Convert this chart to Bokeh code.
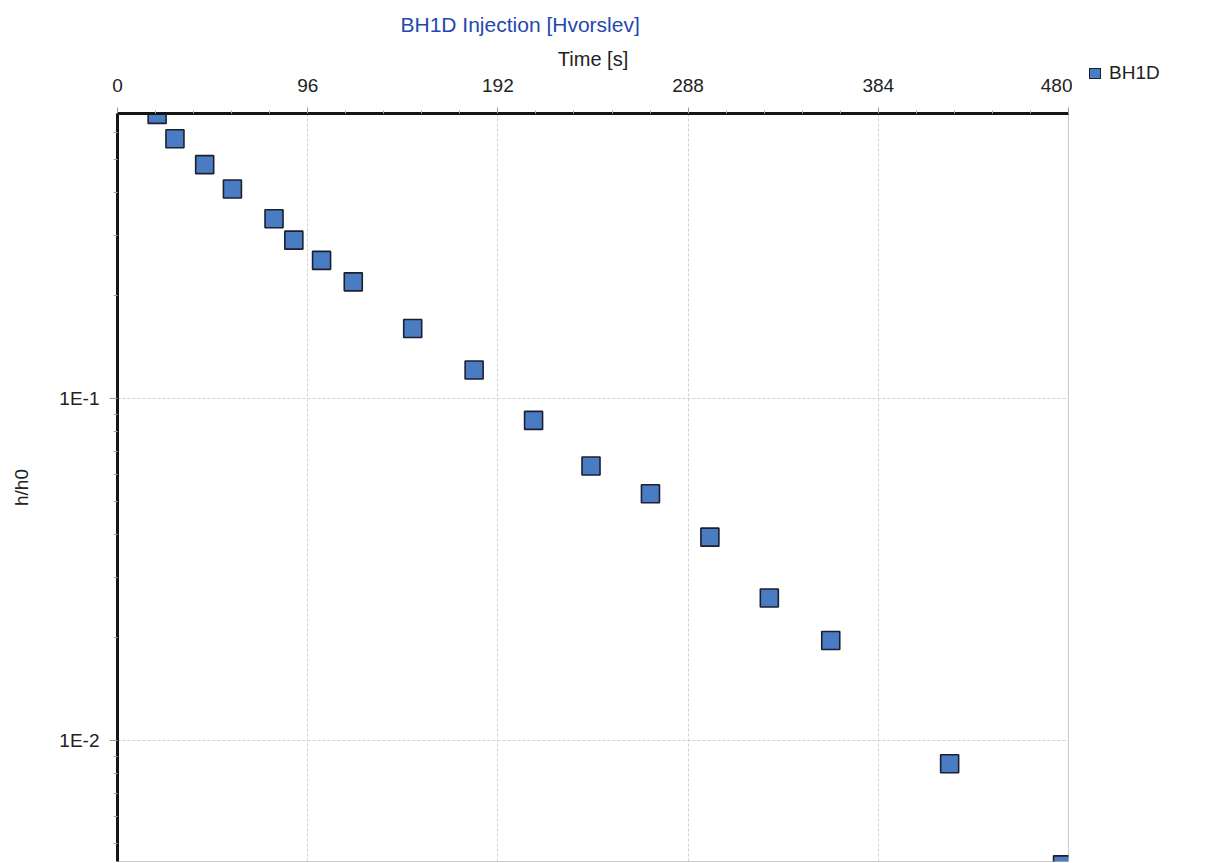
from bokeh.plotting import figure
from bokeh.layouts import row
from bokeh.models import Range1d, FixedTicker, ColumnDataSource, Div
from bokeh.embed import file_html
from bokeh.resources import INLINE

# ---- data ----
time_s = [20, 29, 44, 58, 79, 89, 103, 119, 149, 180, 210, 239, 269, 299, 329, 360, 420, 477]
h_h0 = [0.676, 0.574, 0.482, 0.409, 0.335, 0.290, 0.253, 0.219, 0.160, 0.121,
        0.0862, 0.0634, 0.0526, 0.0393, 0.0261, 0.0196, 0.00855, 0.00433]
x_ticks = [0, 96, 192, 288, 384, 480]
y_ticks = [0.01, 0.1]
y_tick_labels = {0.01: "1E-2", 0.1: "1E-1"}
series_name = "BH1D"
title_text = "BH1D Injection [Hvorslev]"
x_label = "Time [s]"
y_label = "h/h0"

FONT = "Liberation Sans"
FILL = "#4a7cc4"
EDGE = "#1c1f2e"

H = 862
p = figure(width=1072, height=H, output_backend="svg", toolbar_location=None,
           x_range=Range1d(0, 480), y_range=Range1d(0.00443, 0.68),
           y_axis_type="log", x_axis_location="above",
           min_border_left=117, min_border_right=4, min_border_top=113,
           min_border_bottom=1)

p.background_fill_color = "white"
p.border_fill_color = "white"
p.outline_line_color = "#cfc8cf"
p.outline_line_width = 1

# title
p.title.text = title_text
p.title.align = "left"
p.title.offset = 283
p.title.vertical_align = "top"
p.title.text_font = FONT
p.title.text_font_size = "21px"
p.title.text_font_style = "normal"
p.title.text_color = "#2448b0"
p.title.standoff = 14

# x axis (top)
xa = p.xaxis[0]
minor_x = [i * 19.2 for i in range(26) if i % 5 != 0]
xa.ticker = FixedTicker(ticks=x_ticks, minor_ticks=minor_x)
xa.axis_label = x_label
xa.axis_label_text_font = FONT
xa.axis_label_text_font_size = "20px"
xa.axis_label_text_font_style = "normal"
xa.axis_label_text_color = "#222222"
xa.axis_label_standoff = 6
xa.major_label_text_font = FONT
xa.major_label_text_font_size = "19px"
xa.major_label_text_color = "#222222"
xa.major_label_standoff = 16
xa.axis_line_width = 3
xa.axis_line_color = "#151515"
xa.major_tick_in = 0
xa.major_tick_out = 6
xa.minor_tick_in = 0
xa.minor_tick_out = 3
xa.major_tick_line_color = "#999999"
xa.minor_tick_line_color = "#aaaaaa"

# y axis (left, log)
ya = p.yaxis[0]
minor_y = [k * 10 ** e for e in (-3, -2, -1) for k in range(2, 10)]
ya.ticker = FixedTicker(ticks=y_ticks, minor_ticks=minor_y)
ya.major_label_overrides = y_tick_labels
ya.axis_label = y_label
ya.axis_label_text_font = FONT
ya.axis_label_text_font_size = "19px"
ya.axis_label_text_font_style = "normal"
ya.axis_label_text_color = "#222222"
ya.axis_label_standoff = 24
ya.major_label_text_font = FONT
ya.major_label_text_font_size = "19px"
ya.major_label_text_color = "#222222"
ya.major_label_standoff = 10
ya.axis_line_width = 3
ya.axis_line_color = "#151515"
ya.major_tick_in = 0
ya.major_tick_out = 8
ya.minor_tick_in = 0
ya.minor_tick_out = 4
ya.major_tick_line_color = "#999999"
ya.minor_tick_line_color = "#aaaaaa"

# grid
for g in (p.xgrid[0], p.ygrid[0]):
    g.grid_line_color = "#d6cdd6"
    g.grid_line_dash = "3 2"
    g.grid_line_width = 1

src = ColumnDataSource(dict(t=time_s, h=h_h0))
r = p.scatter("t", "h", source=src, marker="square", size=18,
              fill_color=FILL, line_color=EDGE, line_width=1.6)

# legend, to the right of the top axis
legend_html = (
    f'<div style="display:flex;align-items:center;margin:57px 0 0 12px;'
    f'font-family:\'{FONT}\';font-size:19px;color:#222222;line-height:22px;">'
    f'<span style="display:inline-block;width:12px;height:11px;background:{FILL};'
    f'border:1.5px solid {EDGE};margin-right:8px;"></span>{series_name}</div>'
)
legend_box = Div(text=legend_html, width=134, height=H)

layout = row(p, legend_box)
open("out.html", "w").write(file_html(layout, INLINE))
